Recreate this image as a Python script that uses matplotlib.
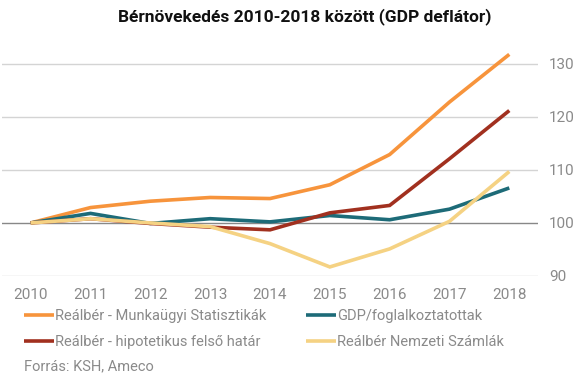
import matplotlib
matplotlib.use("Agg")
import matplotlib.pyplot as plt

years = [2010, 2011, 2012, 2013, 2014, 2015, 2016, 2017, 2018]
munkaugyi = [100, 102.9, 104.1, 104.8, 104.6, 107.2, 112.9, 122.8, 131.8]
gdp_fogl = [100, 101.8, 99.9, 100.8, 100.2, 101.4, 100.6, 102.6, 106.6]
hipotetikus = [100, 100.8, 99.9, 99.2, 98.7, 101.9, 103.3, 112.1, 121.2]
nemzeti = [100, 100.8, 100.0, 99.3, 96.1, 91.7, 95.1, 100.3, 109.7]

labels = ["Reálbér - Munkaügyi Statisztikák", "GDP/foglalkoztatottak",
          "Reálbér - hipotetikus felső határ", "Reálbér Nemzeti Számlák"]
colors = ["#F7943C", "#1D6B78", "#A1301F", "#F5D283"]
yticks = [90, 100, 110, 120, 130]

plt.rcParams['font.family'] = ['Roboto', 'DejaVu Sans']

fig = plt.figure(figsize=(5.81, 3.78), dpi=100)
ax = fig.add_axes([0.0034, 0.27, 0.9226, 0.603])

for v in yticks:
    ax.axhline(v, color="#888888" if v == 100 else "#d4d4d4",
               lw=1.0, zorder=1)

series = [munkaugyi, gdp_fogl, hipotetikus, nemzeti]
handles = []
for s, c, l in zip(series, colors, labels):
    h, = ax.plot(years, s, color=c, lw=2.6, label=l, zorder=3,
                 solid_capstyle="butt", solid_joinstyle="miter")
    handles.append(h)

ax.set_xlim(2009.52, 2018.48)
ax.set_ylim(90, 133)
ax.yaxis.tick_right()
ax.set_yticks(yticks)
ax.set_xticks(years)
ax.tick_params(axis="both", length=0, labelsize=11, labelcolor="#8a8a8a")
ax.tick_params(axis="y", pad=8)
ax.tick_params(axis="x", pad=9)
for sp in ax.spines.values():
    sp.set_visible(False)

fig.text(0.525, 0.955, "Bérnövekedés 2010-2018 között (GDP deflátor)",
         ha="center", va="center", fontsize=12.5, fontweight="bold",
         color="#111111")

leg = fig.legend([handles[0], handles[2], handles[1], handles[3]],
                 [labels[0], labels[2], labels[1], labels[3]],
                 ncol=2, loc="upper left", bbox_to_anchor=(0.042, 0.183),
                 frameon=False, fontsize=10.5, handlelength=2.0,
                 handletextpad=0.1, columnspacing=2.75, labelspacing=0.85,
                 borderaxespad=0, borderpad=0)
for t in leg.get_texts():
    t.set_color("#8a8a8a")

fig.text(0.042, 0.03, "Forrás: KSH, Ameco", fontsize=10.5, color="#8a8a8a",
         ha="left", va="center")

fig.savefig("out.png", dpi=100)
